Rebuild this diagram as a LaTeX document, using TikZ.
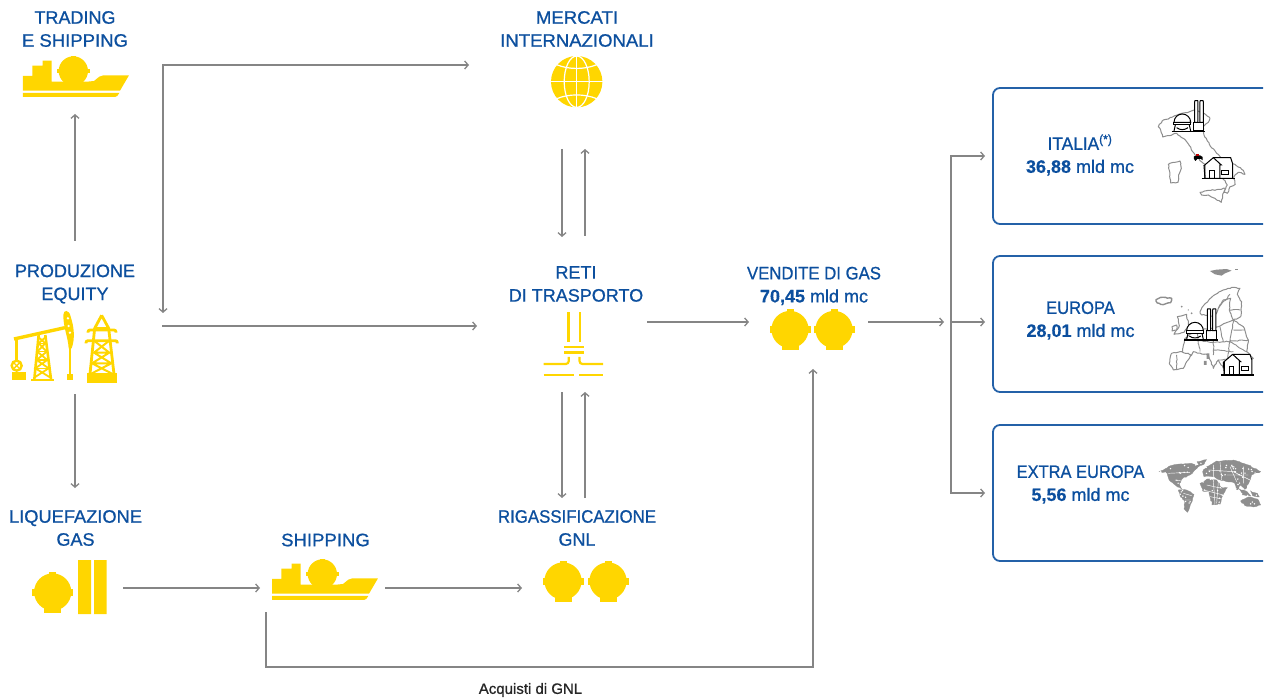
\documentclass[tikz,border=0pt]{standalone}
\usepackage{fontspec}
\usepackage{graphicx}
\setmainfont{Liberation Sans}[FakeBold=0.9,BoldFeatures={FakeBold=0.3}]
\usetikzlibrary{arrows.meta,decorations.pathmorphing}
\definecolor{ylw}{HTML}{FFD600}
\definecolor{blu}{HTML}{0C4F9E}
\definecolor{gry}{HTML}{858585}
\definecolor{mapg}{HTML}{8E8E8E}
\newcommand{\lbl}{\fontsize{18}{23}\selectfont}
\newcommand{\sx}[2]{\scalebox{#1}[1]{#2}}
\tikzset{
 conn/.style={draw=gry,line width=1.5pt,-{Straight Barb[length=3.5pt,width=8pt,line width=1.3pt]}},
 both/.style={draw=gry,line width=1.5pt,{Straight Barb[length=3.5pt,width=8pt,line width=1.3pt]}-{Straight Barb[length=3.5pt,width=8pt,line width=1.3pt]}},
 title/.style={text=blu,align=center,font=\lbl,inner sep=0pt},
 panel/.style={draw=blu!90!white,line width=1.8pt,rounded corners=7pt},
 jag/.style={decorate,decoration={random steps,segment length=2.2pt,amplitude=.55pt}},
 mapline/.style={draw=mapg,line width=1pt,fill=white,line join=round,jag},
 borderl/.style={draw=mapg,line width=.9pt,jag},
 worldfill/.style={fill=mapg,draw=mapg,line width=.3pt,jag},
 blk/.style={draw=black,line width=1pt,fill=none},
 pics/tank/.style={code={
   \fill[ylw] (0,0) circle[radius=18.6];
   \fill[ylw] (-3.5,-20) rectangle (3.5,-15);
   \fill[ylw] (-20.5,-3.5) rectangle (20.5,3.5);
   \fill[ylw] (-8.5,10) rectangle (8.5,21);
 }},
 pics/ship/.style={code={
  \begin{scope}[x=.3333pt,y=-.3333pt]
   \fill[ylw] (69,228)--(97,228)--(97,197)--(128,197)--(128,182)--(155,182)--(155,245)--(180,245)--(262,245)--(282,243)--(298,230)--(310,226)--(387,226)--(360,272)--(69,272)--cycle;
   \fill[ylw] (220,213) circle[radius=44];
   \fill[ylw] (171,207) rectangle (270,220);
   \fill[ylw] (213,168) rectangle (228,180);
   \fill[ylw] (69,279)--(358,279)--(352,288)--(345,291)--(69,291)--cycle;
  \end{scope}
 }},
 pics/plant/.style={code={
   \draw[blk,fill=white] (522,112) arc[start angle=180,end angle=360,radius=25] -- cycle;
   \draw[blk,fill=white] (522,112) rectangle (572,120);
   \draw[blk] (526,120)--(522,138) (568,120)--(572,138) (530,128) .. controls (540,136) and (554,136) .. (564,128);
   \draw[blk,fill=white] (582,112) rectangle (612,138);
   \draw[blk,fill=white] (584,50) -- (585,47) -- (593,47) -- (594,50) -- (594,112) -- (584,112) -- cycle;
   \draw[blk,fill=white] (600,50) -- (601,47) -- (609,47) -- (610,50) -- (610,112) -- (600,112) -- cycle;
   \draw[blk,line width=1.2pt] (515,140)--(615,140);
 }},
 pics/house/.style={code={
   \draw[blk,fill=white] (612,242)--(640,218)--(692,218)--(698,236)--(698,280)--(615,280)--cycle;
   \draw[blk] (640,218)--(664,240)--(660,240)--(660,280) (615,240)--(615,280);
   \draw[blk] (630,280)--(630,256)--(644,256)--(644,280);
   \draw[blk] (666,256) rectangle (687,268);
   \draw[blk,line width=1.2pt] (605,280)--(705,280);
 }},
}
\begin{document}
\begin{tikzpicture}[x=1pt,y=-1pt]
\useasboundingbox (0,0) rectangle (1266,700);
\pgfmathsetseed{4711}

% panels
\draw[panel] (1263,88) -- (993,88) -- (993,224) -- (1263,224);
\draw[panel] (1263,256) -- (993,256) -- (993,392) -- (1263,392);
\draw[panel] (1263,425) -- (993,425) -- (993,561) -- (1263,561);

% Italy map
\begin{scope}[shift={(1000,85)},x=.3333pt,y=-.3333pt]
 \draw[mapline] (478,118)--(490,105)--(505,102)--(525,92)--(545,85)--(590,75)--(612,85)--(630,100)--(625,112)--(610,125)--(612,150)--(628,178)--(650,205)--(680,232)--(705,238)--(730,256)--(735,268)--(715,262)--(702,275)--(706,298)--(690,305)--(682,325)--(672,322)--(682,300)--(672,285)--(640,262)--(610,235)--(585,210)--(560,170)--(530,145)--(505,152)--(488,156)--(482,135)--(475,125)--cycle;
 \draw[mapline] (600,322)--(625,316)--(650,314)--(676,310)--(668,332)--(664,352)--(645,340)--(625,330)--(605,330)--cycle;
 \draw[mapline] (505,238)--(520,232)--(540,228)--(544,250)--(536,270)--(534,292)--(512,294)--(510,270)--cycle;
 \fill[black] (582,214)--(600,211)--(608,216)--(608,226)--(603,222)--(592,222)--(586,228)--(582,222)--cycle;
 \fill[red!75!black] (588,206) rectangle (597,212);
 \pic at (0,0) {plant};
 \pic at (0,0) {house};
\end{scope}

% Europe map
\begin{scope}[shift={(1000,255)},x=.3333pt,y=-.3333pt]
 \fill[mapg] (630,48)--(650,44)--(680,42)--(695,47)--(675,55)--(665,62)--(645,58)--cycle;
 \fill[mapg] (705,42) rectangle (715,46);
 \draw[mapline,line width=1.4pt] (468,134)--(482,127)--(515,130)--(512,143)--(490,149)--(472,144)--cycle;
 \draw[mapline] (600,170)--(612,150)--(640,122)--(670,105)--(700,97)--(720,100)--(712,118)--(725,140)--(722,185)--(700,195)--(688,165)--(692,130)--(670,135)--(655,160)--(645,185)--(625,180)--(605,180)--cycle;
 \draw[borderl] (655,160)--(690,118) (688,165)--(722,165);
 \draw[mapline] (532,185)--(560,178)--(566,215)--(552,232)--(522,238)--(538,212)--cycle;
 \draw[mapline] (516,215)--(530,210)--(530,225)--(516,228)--cycle;
 \draw[mapline] (555,250)--(590,225)--(640,220)--(700,195)--(730,215)--(745,255)--(740,290)--(760,310)--(735,330)--(700,345)--(670,340)--(655,315)--(640,340)--(625,300)--(580,290)--(575,300)--(545,295)--cycle;
 \draw[mapline] (515,295)--(545,290)--(575,300)--(560,320)--(550,340)--(520,345)--(508,325)--cycle;
 \draw[borderl] (590,225)--(600,290) (640,220)--(640,300) (700,195)--(690,260)--(740,290) (640,262)--(745,255) (655,315)--(720,310) (690,260)--(680,320) (580,255)--(640,262) (660,215)--(670,260) (700,225)--(735,225) (640,285)--(700,290) (530,300)--(530,342) (700,300)--(700,345);
 \fill[mapg] (620,295) rectangle (628,312) (612,318) rectangle (620,330);
 \fill[mapg] (545,155) circle[radius=3] (575,175) circle[radius=3] (565,165) circle[radius=2];
 \pic at (38,115) {plant};
 \pic at (58,80) {house};
\end{scope}

% World map
\begin{scope}[shift={(1000,425)},x=.3333pt,y=-.3333pt]
 \path[worldfill] (478,140)--(505,125)--(530,118)--(570,115)--(600,122)--(585,135)--(570,150)--(548,160)--(538,175)--(545,192)--(528,182)--(510,168)--(502,145)--cycle;
 \path[worldfill] (590,110)--(620,104)--(612,118)--(598,122)--cycle;
 \path[worldfill] (535,195)--(560,195)--(582,208)--(575,232)--(562,262)--(552,252)--(555,230)--(540,212)--cycle;
 \path[worldfill] (620,125)--(650,108)--(700,105)--(745,120)--(782,140)--(755,150)--(748,170)--(735,195)--(722,180)--(712,195)--(700,172)--(680,170)--(660,165)--(640,155)--(612,155)--(608,140)--cycle;
 \path[worldfill] (600,175)--(622,162)--(650,165)--(665,188)--(682,188)--(668,212)--(660,238)--(636,240)--(626,200)--(608,198)--cycle;
 \path[worldfill] (722,228)--(745,216)--(772,222)--(782,240)--(760,246)--(735,242)--cycle;
 \path[worldfill] (718,192)--(738,198)--(752,212)--(728,210)--cycle;
 \path[worldfill] (752,198)--(772,205)--(778,216)--(758,212)--cycle;
 \draw[white,line width=.45pt] (505,145)--(570,142) (525,165)--(545,168) (550,205)--(575,212) (555,225)--(572,225) (640,120)--(640,155) (660,110)--(665,165) (625,135)--(700,140) (690,125)--(710,170) (730,125)--(730,175) (620,180)--(665,190) (640,165)--(645,238) (610,195)--(670,210) (655,170)--(650,235) (630,215)--(665,222) (680,150)--(745,150) (700,140)--(750,165);
 \foreach \i in {1,...,150}{
   \pgfmathsetmacro{\px}{480+rnd*300}
   \pgfmathsetmacro{\py}{110+rnd*135}
   \fill[white] (\px,\py) circle[radius=2.4];
 }
\end{scope}

% icons
\pic at (0,0) {ship};
\pic at (249,503) {ship};
\pic at (790,329.5) {tank};
\pic at (834,329.5) {tank};
\pic at (563,581) {tank};
\pic at (608,581) {tank};
\pic at (52.7,592) {tank};
\fill[ylw] (78,560) rectangle (91,614) (94,560) rectangle (106.5,614);

% globe
\begin{scope}[shift={(576.7,81.7)}]
 \fill[ylw] (0,0) circle[radius=25.7];
 \draw[white,line width=1.2pt] (0,-26)--(0,26) (-26,0)--(26,0);
 \draw[white,line width=1.2pt] (0,0) circle[x radius=12.5,y radius=25.7];
 \draw[white,line width=1.2pt] (-20,-17) .. controls (-8,-12) and (8,-12) .. (20,-17);
 \draw[white,line width=1.2pt] (-20,17) .. controls (-8,12) and (8,12) .. (20,17);
\end{scope}

% pipeline icon
\begin{scope}[line width=2.2pt]
 \draw[ylw] (568.5,312.5)--(568.5,342) (580,312.5)--(580,342);
 \draw[ylw] (564,347)--(583.5,347) (564,352.5)--(583.5,352.5);
 \draw[ylw,rounded corners=3pt] (568.8,357)--(568.8,364)--(543.5,364);
 \draw[ylw,rounded corners=3pt] (579.5,357)--(579.5,364)--(603,364);
 \draw[ylw] (543.5,375)--(573.5,375) (579,375)--(603,375);
\end{scope}

% oil pump and pylon
\begin{scope}[shift={(0,300)},x=.3333pt,y=-.3333pt]
 \draw[ylw,line width=3.4pt] (42,117)--(195,83);
 \draw[ylw,line width=3pt] (50,117)--(50,182);
 \draw[ylw,line width=2.4pt] (50,197) circle[radius=15];
 \draw[ylw,line width=1.4pt] (38,185)--(62,209) (38,209)--(62,185);
 \fill[ylw] (35,215) rectangle (78,240);
 \fill[ylw] (190,45) .. controls (190,28) and (208,28) .. (212,50) .. controls (222,80) and (226,115) .. (215,145) -- (206,145) .. controls (204,110) and (190,85) .. (190,45) -- cycle;
 \fill[white] (204,55) circle[radius=4] (206,78) circle[radius=4] (210,98) circle[radius=4];
 \draw[ylw,line width=1.3pt] (210,145)--(210,224);
 \fill[ylw] (201,221) rectangle (219,240);
 \draw[ylw,line width=2.6pt] (116,105)--(103,238) (136,105)--(153,238);
 \draw[ylw,line width=1.8pt] (116,112)--(136,130)--(112,155)--(142,180)--(106,205)--(150,232) (136,112)--(116,130)--(140,155)--(110,180)--(146,205)--(104,232);
 \draw[ylw,line width=1.6pt] (116,130)--(136,130) (112,155)--(140,155) (108,180)--(144,180) (105,205)--(148,205);
 \fill[ylw] (92,238) rectangle (163,243);
 % pylon
 \draw[ylw,line width=2.8pt] (305,46)--(284,85)--(270,222) (305,46)--(326,85)--(342,222);
 \draw[ylw,line width=2.6pt] (284,85)--(326,85);
 \draw[ylw,line width=2.8pt,rounded corners=2pt] (264,98)--(264,90)--(348,90)--(348,98);
 \draw[ylw,line width=2.8pt,rounded corners=2pt] (258,130)--(258,122)--(352,122)--(352,130);
 \draw[ylw,line width=2pt] (282,122)--(328,158)--(276,190)--(338,222) (328,122)--(282,158)--(334,190)--(272,222) (280,158)--(330,158) (276,190)--(336,190);
 \fill[ylw] (262,219) rectangle (351,248);
\end{scope}

% texts
\node[title] (trading) at (75,29) {TRADING\\\sx{1.03}{E SHIPPING}};
\node[title] (merc) at (577,29) {\sx{1.03}{MERCATI}\\\sx{1.03}{INTERNAZIONALI}};
\node[title] (prod) at (75,284) {PRODUZIONE\\EQUITY};
\node[title] (reti) at (576,284) {RETI\\DI TRASPORTO};
\node[title] (vend) at (814,286) {\sx{.93}{VENDITE DI GAS}\\\textbf{70,45} mld mc};
\node[title] (liq) at (75.5,528) {\sx{1.015}{LIQUEFAZIONE}\\GAS};
\node[title] (ship) at (325.5,540) {\sx{1.03}{SHIPPING}};
\node[title] (rig) at (577,528) {\sx{.935}{RIGASSIFICAZIONE}\\GNL};
\node[title] (ita) at (1080,155) {\sx{.96}{ITALIA\textsuperscript{(*)}}\\\textbf{36,88} mld mc};
\node[title] (eur) at (1080.5,320.5) {\sx{.92}{EUROPA}\\\textbf{28,01} mld mc};
\node[title] (ext) at (1080.5,484.5) {\sx{.914}{EXTRA EUROPA}\\\textbf{5,56} mld mc};
\node[text=black!85,font=\fontsize{15}{17}\selectfont,inner sep=0pt] (acq) at (530.5,690) {Acquisti di GNL};

% connector ends
\coordinate (a1) at (75,241); \coordinate (a2) at (75,114);
\coordinate (b1) at (75,394); \coordinate (b2) at (75,488);
\coordinate (c1) at (469,65); \coordinate (c2) at (163,65); \coordinate (c3) at (163,313);
\coordinate (d1) at (162,326); \coordinate (d2) at (477,326);
\coordinate (e1) at (562,149); \coordinate (e2) at (562,237);
\coordinate (f1) at (585,236); \coordinate (f2) at (585,149);
\coordinate (g1) at (647,322); \coordinate (g2) at (749,322);
\coordinate (h1) at (562,392); \coordinate (h2) at (562,498);
\coordinate (i1) at (585,498); \coordinate (i2) at (585,392);
\coordinate (j1) at (123,588); \coordinate (j2) at (260,588);
\coordinate (k1) at (385,588); \coordinate (k2) at (522,588);
\coordinate (l1) at (266,612); \coordinate (l2) at (266,667); \coordinate (l3) at (813,667); \coordinate (l4) at (813,369);
\coordinate (m1) at (868,322); \coordinate (m2) at (944,322);
\coordinate (n1) at (985,156); \coordinate (n2) at (951,156); \coordinate (n3) at (951,493); \coordinate (n4) at (985,493);
\coordinate (o1) at (951,322); \coordinate (o2) at (985,322);

\draw[conn] (a1)--(a2);
\draw[conn] (b1)--(b2);
\draw[both] (c1)--(c2)--(c3);
\draw[conn] (d1)--(d2);
\draw[conn] (e1)--(e2);
\draw[conn] (f1)--(f2);
\draw[conn] (g1)--(g2);
\draw[conn] (h1)--(h2);
\draw[conn] (i1)--(i2);
\draw[conn] (j1)--(j2);
\draw[conn] (k1)--(k2);
\draw[conn] (l1)--(l2)--(l3)--(l4);
\draw[conn] (m1)--(m2);
\draw[both] (n1)--(n2)--(n3)--(n4);
\draw[conn] (o1)--(o2);
\end{tikzpicture}
\end{document}
